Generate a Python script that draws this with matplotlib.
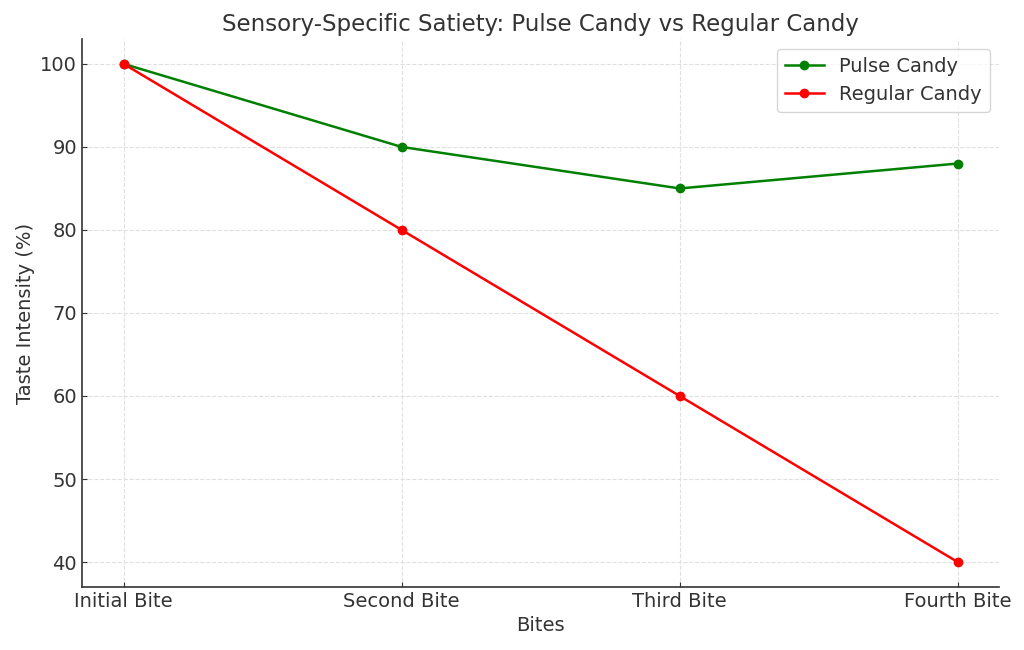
import matplotlib.pyplot as plt

###########################################################
# data

bites = ['Initial Bite', 'Second Bite', 'Third Bite', 'Fourth Bite']
pulse_candy = [100, 90, 85, 88]
regular_candy = [100, 80, 60, 40]

###########################################################
# plot

fig, ax = plt.subplots(figsize=(10.24, 6.5), dpi=100)

ax.plot(bites, pulse_candy, marker='o', color='green', linewidth=1.8,
        label='Pulse Candy')
ax.plot(bites, regular_candy, marker='o', color='red', linewidth=1.8,
        label='Regular Candy')

ax.set_title('Sensory-Specific Satiety: Pulse Candy vs Regular Candy',
             fontsize=16.5, color='#333333')
ax.set_xlabel('Bites', fontsize=14, color='#333333')
ax.set_ylabel('Taste Intensity (%)', fontsize=14, color='#333333')
ax.tick_params(labelsize=14, colors='#333333', direction='in')
ax.set_yticks([40, 50, 60, 70, 80, 90, 100])

ax.grid(True, linestyle='--', color='#e0e0e0', linewidth=0.8)
ax.spines['top'].set_visible(False)
ax.spines['right'].set_visible(False)
for s in ['left', 'bottom']:
    ax.spines[s].set_color('#333333')
    ax.spines[s].set_linewidth(1.2)

leg = ax.legend(fontsize=14, loc='upper right')
for t in leg.get_texts():
    t.set_color('#333333')

plt.subplots_adjust(left=0.08, right=0.976, top=0.94, bottom=0.097)
plt.savefig('out.png', dpi=100)
